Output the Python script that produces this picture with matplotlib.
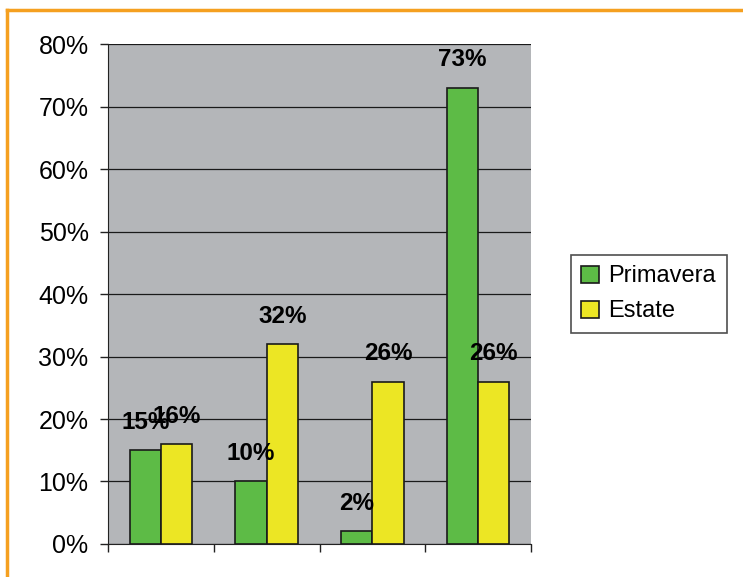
import matplotlib.pyplot as plt
import numpy as np
from matplotlib.lines import Line2D

plt.rcParams['font.family'] = ['Liberation Sans', 'DejaVu Sans']

# dati
gruppi = ['1', '2', '3', '4']
primavera = [15, 10, 2, 73]
estate = [16, 32, 26, 26]
yticks = [0, 10, 20, 30, 40, 50, 60, 70, 80]

col_verde = '#5dbb46'
col_giallo = '#ece624'
col_sfondo = '#b4b6b9'
col_arancio = '#f5a020'

fig = plt.figure(figsize=(7.43, 5.77), dpi=100)
fig.patch.set_facecolor('white')
ax = fig.add_axes([0.1454, 0.0572, 0.5693, 0.8665])
ax.set_facecolor(col_sfondo)

x = np.arange(len(gruppi))
w = 0.295
b1 = ax.bar(x - w / 2, primavera, w, color=col_verde, edgecolor='#1a1a1a', linewidth=1.2, label='Primavera', zorder=3)
b2 = ax.bar(x + w / 2, estate, w, color=col_giallo, edgecolor='#1a1a1a', linewidth=1.2, label='Estate', zorder=3)

# etichette sopra le barre
for bars, vals in [(b1, primavera), (b2, estate)]:
    for bar, v in zip(bars, vals):
        ax.annotate(f'{v}%', (bar.get_x() + bar.get_width() / 2, v),
                    xytext=(0, 20), textcoords='offset points',
                    ha='center', va='center', fontsize=17.5, fontweight='bold', zorder=5)

ax.set_xlim(-0.5, len(gruppi) - 0.5)
ax.set_ylim(0, 80)
ax.set_yticks(yticks)
ax.set_yticklabels([f'{t}%' for t in yticks], fontsize=18)
ax.set_xticks(np.arange(len(gruppi) + 1) - 0.5)
ax.set_xticklabels([])
ax.tick_params(axis='both', direction='out', length=6, width=1, color='#222222')
ax.tick_params(axis='y', pad=8)
ax.yaxis.grid(True, color='#1a1a1a', linewidth=0.9, zorder=1)
ax.set_axisbelow(True)

for s in ['top', 'right']:
    ax.spines[s].set_visible(False)
ax.spines['left'].set_color('#222222')
ax.spines['bottom'].set_color('#222222')

leg = fig.legend(loc='center left', bbox_to_anchor=(0.7523, 0.4905), fontsize=17,
                 frameon=True, fancybox=False, edgecolor='#222222',
                 handlelength=0.75, handleheight=0.75, handletextpad=0.4,
                 borderpad=0.45, labelspacing=0.55)
leg.get_frame().set_linewidth(1.2)

# cornice arancione (solo sinistra e sopra)
fig.add_artist(Line2D([7 / 743, 7 / 743], [0, 1 - 10 / 577], color=col_arancio, linewidth=2.5))
fig.add_artist(Line2D([7 / 743, 1], [1 - 10 / 577, 1 - 10 / 577], color=col_arancio, linewidth=2.5))

fig.savefig('out.png', dpi=100)
